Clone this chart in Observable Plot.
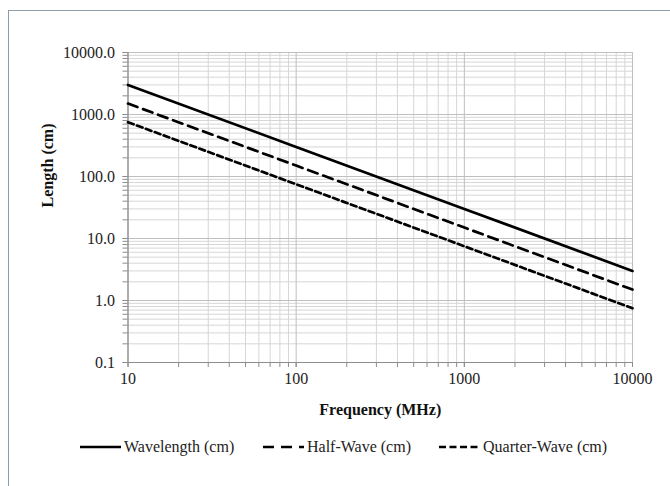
<!DOCTYPE html>
<html>
<head>
<meta charset="utf-8">
<script src="https://cdn.jsdelivr.net/npm/d3@7"></script>
<script src="https://cdn.jsdelivr.net/npm/@observablehq/plot@0.6"></script>
<style>
  html, body { margin: 0; padding: 0; background: #fff; }
  #wrap { position: relative; width: 670px; height: 486px; overflow: hidden; font-family: "Liberation Serif", serif; }
  #frame { position: absolute; left: 8px; top: 10px; width: 700px; height: 520px; border-left: 1.5px solid #8d9ea9; border-top: 1.5px solid #8d9ea9; }
  #chart { position: absolute; left: 0; top: 0; }
  #legend { position: absolute; left: 0; top: 437px; width: 670px; height: 20px; font-size: 16px; color: #222; }
  .item { position: absolute; top: 0; display: flex; align-items: center; height: 20px; }
  .item svg { margin-right: 3px; }
</style>
</head>
<body>
<div id="wrap">
  <div id="frame"></div>
  <div id="chart"></div>
  <div id="legend"></div>
</div>
<script>
// Data
const frequency = [10, 100, 1000, 10000];            // MHz
const wavelength = [3000, 300, 30, 3];                 // cm
const halfWave = [1500, 150, 15, 1.5];                 // cm
const quarterWave = [750, 75, 7.5, 0.75];              // cm

const seriesNames = ["Wavelength (cm)", "Half-Wave (cm)", "Quarter-Wave (cm)"];
const seriesDash = [null, "10,6", "6,3.5"];

const xMajor = [10, 100, 1000, 10000];
const yMajor = [0.1, 1, 10, 100, 1000, 10000];
const minorMultipliers = [2, 3, 4, 5, 6, 7, 8, 9];

const xMinor = xMajor.slice(0, -1).flatMap(d => minorMultipliers.map(m => +(d * m).toPrecision(6)));
const yMinor = yMajor.slice(0, -1).flatMap(d => minorMultipliers.map(m => +(d * m).toPrecision(6)));

const seriesValues = [wavelength, halfWave, quarterWave];
const rows = seriesValues.flatMap((vals, i) => frequency.map((f, j) => ({series: seriesNames[i], f, v: vals[j]})));

const gridMinor = "#d6d6d6";
const gridMajor = "#bfbfbf";
const axisColor = "#8c8c8c";
const textColor = "#222";

const chart = Plot.plot({
  width: 670,
  height: 430,
  marginLeft: 127.5,
  marginRight: 38,
  marginTop: 52,
  marginBottom: 68,
  style: { fontFamily: "Liberation Serif, serif", fontSize: "16px", color: textColor, background: "transparent", overflow: "visible" },
  x: { type: "log", domain: [10, 10000] },
  y: { type: "log", domain: [0.1, 10000] },
  marks: [
    Plot.ruleY(yMinor, { stroke: gridMinor, strokeWidth: 1 }),
    Plot.ruleX(xMinor, { stroke: gridMinor, strokeWidth: 1 }),
    Plot.ruleY(yMajor, { stroke: gridMajor, strokeWidth: 1 }),
    Plot.ruleX(xMajor, { stroke: gridMajor, strokeWidth: 1 }),
    Plot.axisY({ ticks: yMinor.concat(yMajor), tickSize: 5, tickFormat: () => "", stroke: axisColor, label: null }),
    Plot.axisY({ ticks: yMajor, tickSize: 5, tickPadding: 8, tickFormat: d3.format(".1f"), stroke: axisColor, fill: textColor, label: null }),
    Plot.axisX({ ticks: xMinor.concat(xMajor), tickSize: 5, tickFormat: () => "", stroke: axisColor, label: null }),
    Plot.axisX({ ticks: xMajor, tickSize: 5, tickPadding: 5, tickFormat: d => String(d), stroke: axisColor, fill: textColor, label: null }),
    Plot.ruleX([10], { stroke: axisColor, strokeWidth: 1.2 }),
    Plot.ruleY([0.1], { stroke: axisColor, strokeWidth: 1.2 }),
    ...seriesNames.map((name, i) => Plot.line(rows.filter(r => r.series === name), {
      x: "f", y: "v", stroke: "#000", strokeWidth: 2.7, strokeDasharray: seriesDash[i]
    })),
    Plot.text(["Frequency (MHz)"], { frameAnchor: "bottom", dy: 52, fontWeight: "bold", fontSize: 16, fill: "#111" }),
    Plot.text(["Length (cm)"], { frameAnchor: "left", dx: -80, rotate: -90, fontWeight: "bold", fontSize: 16, fill: "#111" })
  ]
});
document.getElementById("chart").appendChild(chart);

// Legend
const legendPos = [80, 263, 439];
const legend = document.getElementById("legend");
seriesNames.forEach((name, i) => {
  const item = document.createElement("div");
  item.className = "item";
  item.style.left = legendPos[i] + "px";
  const w = 41;
  item.innerHTML = `<svg width="${w}" height="10"><line x1="0" x2="${w}" y1="5" y2="5" stroke="#000" stroke-width="2.7" ${seriesDash[i] ? `stroke-dasharray="${i === 1 ? "11,7" : "7,3.5"}"` : ""}/></svg><span>${name}</span>`;
  legend.appendChild(item);
});
</script>
</body>
</html>
